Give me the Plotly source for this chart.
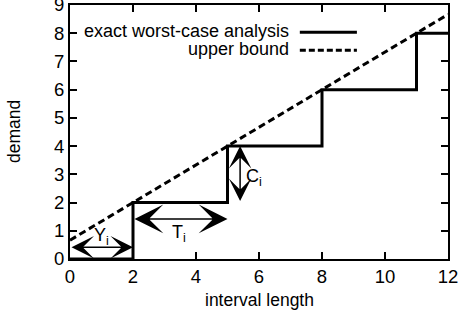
import plotly.graph_objects as go

# step function (exact worst-case analysis)
step_x = [0, 2, 2, 5, 5, 8, 8, 11, 11, 12]
step_y = [0, 0, 2, 2, 4, 4, 6, 6, 8, 8]
# upper bound line
bound_x = [0, 12]
bound_y = [0.6667, 8.6667]

x_ticks = [0, 2, 4, 6, 8, 10, 12]
y_ticks = [0, 1, 2, 3, 4, 5, 6, 7, 8, 9]

FONT = "Liberation Sans, Arial, sans-serif"

fig = go.Figure()
fig.add_trace(go.Scatter(x=step_x, y=step_y, mode="lines",
                         line=dict(color="black", width=3), showlegend=False))
fig.add_trace(go.Scatter(x=bound_x, y=bound_y, mode="lines",
                         line=dict(color="black", width=3, dash="7px,4px"), showlegend=False))

def darrow(x0, y0, x1, y1, size):
    fig.add_annotation(x=x1, y=y1, ax=x0, ay=y0, xref="x", yref="y", axref="x", ayref="y",
                       showarrow=True, arrowhead=3, startarrowhead=3, arrowside="end+start",
                       arrowsize=size, startarrowsize=size, arrowwidth=1.5,
                       arrowcolor="black", text="")

darrow(0, 0.42, 2, 0.42, 2.5)
darrow(2, 1.42, 5, 1.42, 3.2)
darrow(5.4, 2.0, 5.4, 4.0, 2.5)

def label(x, y, t):
    fig.add_annotation(x=x, y=y, xref="x", yref="y", text=t, showarrow=False,
                       font=dict(family=FONT, size=18, color="black"))

label(1.0, 0.8, "Y<sub style='font-size:9px'>i</sub>")
label(3.45, 0.9, "T<sub style='font-size:9px'>i</sub>")
label(5.85, 2.9, "C<sub style='font-size:9px'>i</sub>")

# legend drawn manually
fig.add_annotation(x=0.585, y=0.897, xref="paper", yref="paper", xanchor="right", yanchor="middle",
                   text="exact worst-case analysis", showarrow=False,
                   font=dict(family=FONT, size=18, color="black"))
fig.add_annotation(x=0.585, y=0.826, xref="paper", yref="paper", xanchor="right", yanchor="middle",
                   text="upper bound", showarrow=False,
                   font=dict(family=FONT, size=18, color="black"))
fig.add_shape(type="line", xref="paper", yref="paper", x0=0.608, x1=0.759, y0=0.893, y1=0.893,
              line=dict(color="black", width=3))
fig.add_shape(type="line", xref="paper", yref="paper", x0=0.608, x1=0.759, y0=0.822, y1=0.822,
              line=dict(color="black", width=3, dash="6px,3px"))

# axis titles
fig.add_annotation(x=0.5, y=-0.161, xref="paper", yref="paper", xanchor="center", yanchor="middle",
                   text="interval length", showarrow=False,
                   font=dict(family=FONT, size=17.5, color="black"))
fig.add_annotation(x=-0.148, y=0.5, xref="paper", yref="paper", xanchor="center", yanchor="middle",
                   text="demand", showarrow=False, textangle=-90,
                   font=dict(family=FONT, size=17.5, color="black"))

axis_common = dict(showgrid=False, zeroline=False, showline=True, linecolor="black", linewidth=2,
                   mirror="ticks", ticks="inside", ticklen=7, tickwidth=1.5, tickcolor="black",
                   ticklabeloverflow="allow", automargin=False,
                   tickfont=dict(family=FONT, size=18.5, color="black"))
fig.update_xaxes(range=[0, 12], tickvals=x_ticks, **axis_common)
fig.update_yaxes(range=[0, 9], tickvals=y_ticks, **axis_common)

fig.update_layout(width=461, height=323, margin=dict(l=70, r=13, t=5, b=64),
                  plot_bgcolor="white", paper_bgcolor="white", showlegend=False)
fig.write_html("out.html", config={"displayModeBar": False},
               post_script="document.body.style.margin='0';")
